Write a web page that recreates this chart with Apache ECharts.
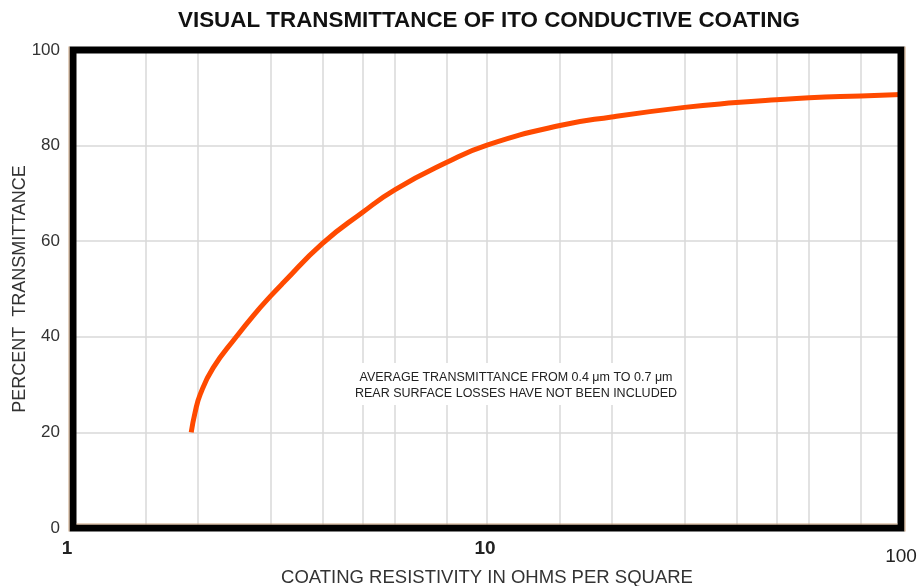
<!DOCTYPE html>
<html>
<head>
<meta charset="utf-8">
<script src="https://cdn.jsdelivr.net/npm/echarts@6/dist/echarts.min.js"></script>
<style>
  html, body { margin: 0; padding: 0; background: #fff; }
  #chart { width: 918px; height: 586px; }
</style>
</head>
<body>
<div id="chart"></div>
<script>
// Coating resistivity (ohms per square) and visual transmittance (%)
const resistivity = [1.93, 1.97, 2.03, 2.18, 2.48, 2.73, 3, 3.22, 4, 5, 6, 8, 10, 15, 20, 30, 40, 50, 60, 80, 100];
const transmittance = [20, 24, 28, 33.5, 40, 44.5, 48.5, 51.3, 59.5, 66, 70.8, 76.5, 80.1, 84.2, 86, 88, 89, 89.6, 90, 90.4, 90.7];

// Vertical grid positions on the log axis
const xGridValues = [1.5, 2, 3, 4, 5, 6, 8, 10, 15, 20, 30, 40, 50, 60, 80];
const yTicks = [0, 20, 40, 60, 80, 100];

const titleText = 'VISUAL TRANSMITTANCE OF ITO CONDUCTIVE COATING';
const xName = 'COATING RESISTIVITY IN OHMS PER SQUARE';
const yName = 'PERCENT  TRANSMITTANCE';
const noteLines = [
  'AVERAGE TRANSMITTANCE FROM 0.4 \u03bcm TO 0.7 \u03bcm',
  'REAR SURFACE LOSSES HAVE NOT BEEN INCLUDED'
];

const FONT = 'Liberation Sans, Arial, sans-serif';
const chart = echarts.init(document.getElementById('chart'), null, { renderer: 'canvas' });

const option = {
  backgroundColor: '#fff',
  animation: false,
  title: {
    text: titleText,
    left: 484,
    textAlign: 'center',
    top: 5,
    textStyle: { fontFamily: FONT, fontSize: 22.4, fontWeight: 'bold', color: '#111' }
  },
  grid: {
    left: 73, right: 17, top: 50, bottom: 58,
    show: false,
    containLabel: false,
    outerBoundsMode: 'none'
  },
  xAxis: {
    type: 'log',
    logBase: 10,
    min: 1,
    max: 100,
    name: xName,
    nameLocation: 'middle',
    nameGap: 40,
    nameMoveOverlap: false,
    nameTextStyle: { fontFamily: FONT, fontSize: 18.5, color: '#333' },
    axisLine: { show: false },
    axisTick: { show: false },
    splitLine: { show: false },
    axisLabel: {
      margin: 11,
      fontFamily: FONT,
      formatter: function (v) {
        if (v === 1) return '{a|1}';
        if (v === 10) return '{b|10}';
        return '{c|100}';
      },
      rich: {
        a: { fontFamily: FONT, fontSize: 19, fontWeight: 'bold', color: '#222', padding: [0, 12, 0, 0] },
        b: { fontFamily: FONT, fontSize: 19, fontWeight: 'bold', color: '#222', padding: [0, 4, 0, 0] },
        c: { fontFamily: FONT, fontSize: 19, color: '#222', padding: [8, 0, 0, 0] }
      }
    }
  },
  yAxis: {
    type: 'value',
    min: 0,
    max: 100,
    interval: 20,
    name: yName,
    nameLocation: 'middle',
    nameGap: 44,
    nameMoveOverlap: false,
    nameRotate: 90,
    nameTextStyle: { fontFamily: FONT, fontSize: 18, color: '#333' },
    axisLine: { show: false },
    axisTick: { show: false },
    axisLabel: {
      margin: 13,
      fontFamily: FONT,
      fontSize: 17,
      color: '#333',
      formatter: function (v) { return yTicks.indexOf(v) >= 0 ? String(v) : ''; }
    },
    splitLine: { show: true, lineStyle: { color: '#d8d8d8', width: 1.5 } }
  },
  series: [
    {
      type: 'line',
      data: resistivity.map((x, i) => [x, transmittance[i]]),
      smooth: 0.5,
      showSymbol: false,
      lineStyle: { color: '#ff4a00', width: 5 },
      z: 5,
      markLine: {
        silent: true,
        symbol: 'none',
        label: { show: false },
        lineStyle: { color: '#d8d8d8', width: 1.5, type: 'solid' },
        data: xGridValues.map(v => ({ xAxis: v }))
      }
    }
  ]
};

chart.setOption(option);

// Frame, edging and the note box, positioned from the axis scales
const p0 = chart.convertToPixel({ gridIndex: 0 }, [1, 0]);
const p1 = chart.convertToPixel({ gridIndex: 0 }, [100, 100]);
const tan = '#c9a27e';
const noteCenter = chart.convertToPixel({ gridIndex: 0 }, [10, 0]);
const noteX = noteCenter[0] + 29;
const noteY = 371;

chart.setOption({
  graphic: [
    {
      type: 'rect', z: 100,
      shape: { x: noteX - 168, y: noteY - 8, width: 336, height: 42 },
      style: { fill: '#fff' }
    },
    {
      type: 'text', z: 101, x: noteX, y: noteY,
      style: { text: noteLines[0], fontFamily: FONT, fontSize: 12.5, fill: '#222', textAlign: 'center' }
    },
    {
      type: 'text', z: 101, x: noteX, y: noteY + 16,
      style: { text: noteLines[1], fontFamily: FONT, fontSize: 12.5, fill: '#222', textAlign: 'center' }
    },
    {
      type: 'rect', z: 200,
      shape: { x: p0[0], y: p1[1], width: p1[0] - p0[0], height: p0[1] - p1[1] },
      style: { fill: 'none', stroke: '#000', lineWidth: 7 }
    },
    { type: 'line', z: 201, shape: { x1: p0[0] - 4, y1: p1[1] - 3.5, x2: p0[0] - 4, y2: p0[1] + 3.5 }, style: { stroke: tan, lineWidth: 1 } },
    { type: 'line', z: 201, shape: { x1: p0[0] + 3.5, y1: p0[1] - 4, x2: p1[0] - 3.5, y2: p0[1] - 4 }, style: { stroke: tan, lineWidth: 1 } },
    { type: 'line', z: 201, shape: { x1: p1[0] + 4, y1: p1[1] - 3.5, x2: p1[0] + 4, y2: p0[1] + 3.5 }, style: { stroke: tan, lineWidth: 1 } }
  ]
});
</script>
</body>
</html>
